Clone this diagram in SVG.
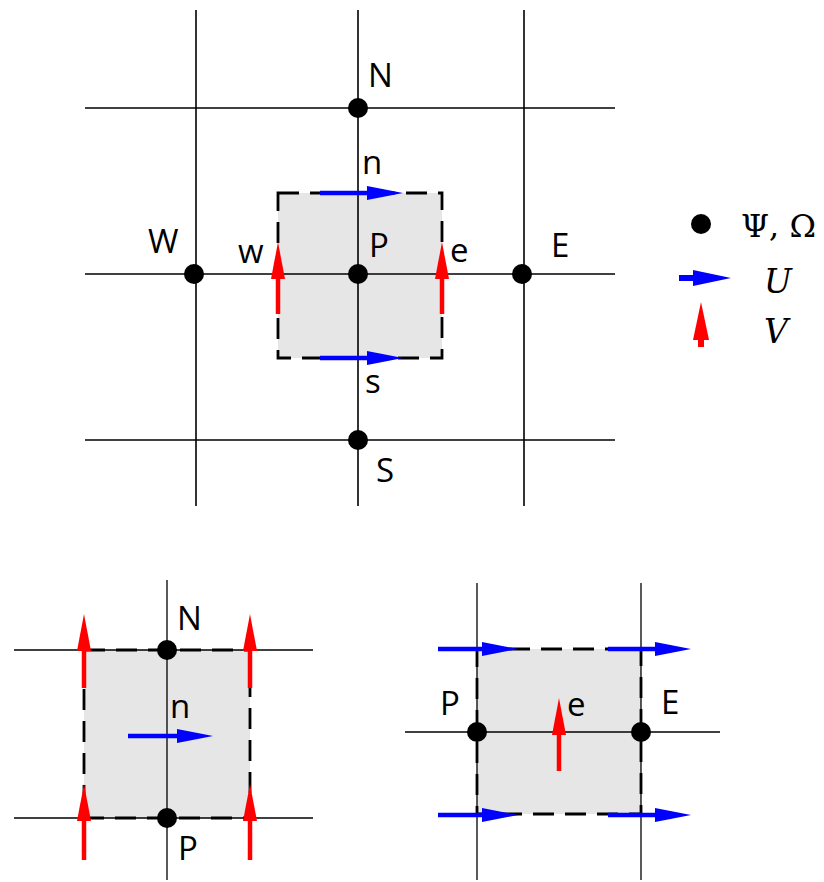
<svg xmlns="http://www.w3.org/2000/svg" width="824" height="882" viewBox="0 0 824 882">
<style>
.g{stroke:#000;stroke-width:1.6;fill:none}
.gs{stroke:#000;stroke-width:1.3;fill:none}
.box{fill:#e6e6e6;stroke:#000;stroke-width:2.8;stroke-dasharray:21 11}
.nd{fill:#000}
.t{font-family:"Open Sans","Liberation Sans",sans-serif;font-size:33px;fill:#000}
.m{font-family:"DejaVu Serif","Liberation Serif",serif;font-size:32px;fill:#000}
.mi{font-family:"DejaVu Serif","Liberation Serif",serif;font-size:33px;font-style:italic;fill:#000}
.bu{stroke:#0000ff;stroke-width:4.5;fill:none}
.rd{stroke:#ff0000;stroke-width:4.5;fill:none}
</style>
<defs>
<marker id="hb" markerUnits="userSpaceOnUse" markerWidth="36" markerHeight="14" refX="6" refY="7" orient="auto" overflow="visible"><path d="M0,0 L36,7 L0,14 Z" fill="#0000ff"/></marker>
<marker id="hr" markerUnits="userSpaceOnUse" markerWidth="37" markerHeight="14" refX="6" refY="7" orient="auto" overflow="visible"><path d="M0,0 L37,7 L0,14 Z" fill="#ff0000"/></marker>
<marker id="hbL" markerUnits="userSpaceOnUse" markerWidth="38" markerHeight="16" refX="4" refY="8" orient="auto" overflow="visible"><path d="M0,0 L38,8 L0,16 Z" fill="#0000ff"/></marker>
<marker id="hrL" markerUnits="userSpaceOnUse" markerWidth="38" markerHeight="16" refX="4" refY="8" orient="auto" overflow="visible"><path d="M0,0 L38,8 L0,16 Z" fill="#ff0000"/></marker>
</defs>

<!-- Top diagram -->
<g id="top-cell">
<rect class="box" x="278" y="193" width="164" height="165"/>
</g>
<g id="top-grid">
<line class="g" x1="85" y1="108" x2="615" y2="108"/>
<line class="g" x1="85" y1="274" x2="615" y2="274"/>
<line class="g" x1="85" y1="440" x2="615" y2="440"/>
<line class="g" x1="196" y1="10" x2="196" y2="506"/>
<line class="g" x1="358" y1="10" x2="358" y2="506"/>
<line class="g" x1="524" y1="10" x2="524" y2="506"/>
</g>
<g id="top-arrows">
<line class="bu" x1="320" y1="193" x2="373" y2="193" marker-end="url(#hb)"/>
<line class="bu" x1="320" y1="358" x2="373" y2="358" marker-end="url(#hb)"/>
<line class="rd" x1="278" y1="314" x2="278" y2="273" marker-end="url(#hr)"/>
<line class="rd" x1="442" y1="314" x2="442" y2="273" marker-end="url(#hr)"/>
</g>
<g id="node-N"><circle class="nd" cx="358" cy="108" r="10"/><text class="t" x="368" y="87">N</text></g>
<g id="node-W"><circle class="nd" cx="194" cy="274" r="10"/><text class="t" x="148" y="253">W</text></g>
<g id="node-P"><circle class="nd" cx="358" cy="274" r="10"/><text class="t" x="369" y="257">P</text></g>
<g id="node-E"><circle class="nd" cx="522" cy="274" r="10"/><text class="t" x="551" y="257">E</text></g>
<g id="node-S"><circle class="nd" cx="358" cy="440" r="10"/><text class="t" x="376" y="482">S</text></g>
<g id="top-labels">
<text class="t" x="362" y="174">n</text>
<text class="t" x="238" y="263">w</text>
<text class="t" x="450" y="262">e</text>
<text class="t" x="365" y="393">s</text>
</g>

<!-- Legend -->
<g id="legend">
<circle class="nd" cx="701" cy="224" r="10"/>
<text class="m" x="741" y="237">Ψ, Ω</text>
<line class="bu" x1="679" y1="278" x2="697" y2="278" style="stroke-width:6" marker-end="url(#hbL)"/>
<text class="mi" x="764" y="293">U</text>
<line class="rd" x1="701" y1="347" x2="701" y2="336" style="stroke-width:6" marker-end="url(#hrL)"/>
<text class="mi" x="764" y="343">V</text>
</g>

<!-- Bottom left -->
<g id="bl-cell"><rect class="box" x="84" y="650" width="166" height="168"/></g>
<g id="bl-grid">
<line class="gs" x1="14" y1="650" x2="313" y2="650"/>
<line class="gs" x1="14" y1="818" x2="313" y2="818"/>
<line class="gs" x1="167" y1="580" x2="167" y2="880"/>
</g>
<g id="bl-arrows">
<line class="rd" x1="84" y1="688" x2="84" y2="645" marker-end="url(#hr)"/>
<line class="rd" x1="250" y1="688" x2="250" y2="645" marker-end="url(#hr)"/>
<line class="rd" x1="84" y1="860" x2="84" y2="815" marker-end="url(#hr)"/>
<line class="rd" x1="250" y1="860" x2="250" y2="815" marker-end="url(#hr)"/>
<line class="bu" x1="128" y1="736" x2="183" y2="736" marker-end="url(#hb)"/>
</g>
<g id="bl-N"><circle class="nd" cx="167" cy="650" r="10"/><text class="t" x="177" y="630">N</text></g>
<g id="bl-P"><circle class="nd" cx="167" cy="818" r="10"/><text class="t" x="178" y="860">P</text></g>
<g id="bl-labels"><text class="t" x="170" y="718">n</text></g>

<!-- Bottom right -->
<g id="br-cell"><rect class="box" x="477" y="649" width="164" height="165"/></g>
<g id="br-grid">
<line class="gs" x1="477" y1="583" x2="477" y2="880"/>
<line class="gs" x1="641" y1="583" x2="641" y2="880"/>
<line class="gs" x1="405" y1="732" x2="720" y2="732"/>
</g>
<g id="br-arrows">
<line class="bu" x1="438" y1="649" x2="488" y2="649" marker-end="url(#hb)"/>
<line class="bu" x1="608" y1="649" x2="661" y2="649" marker-end="url(#hb)"/>
<line class="bu" x1="438" y1="815" x2="488" y2="815" marker-end="url(#hb)"/>
<line class="bu" x1="608" y1="815" x2="661" y2="815" marker-end="url(#hb)"/>
<line class="rd" x1="559" y1="771" x2="559" y2="729" marker-end="url(#hr)"/>
</g>
<g id="br-P"><circle class="nd" cx="477" cy="732" r="10"/><text class="t" x="440" y="715">P</text></g>
<g id="br-E"><circle class="nd" cx="641" cy="732" r="10"/><text class="t" x="661" y="714">E</text></g>
<g id="br-labels"><text class="t" x="567" y="716">e</text></g>
</svg>
